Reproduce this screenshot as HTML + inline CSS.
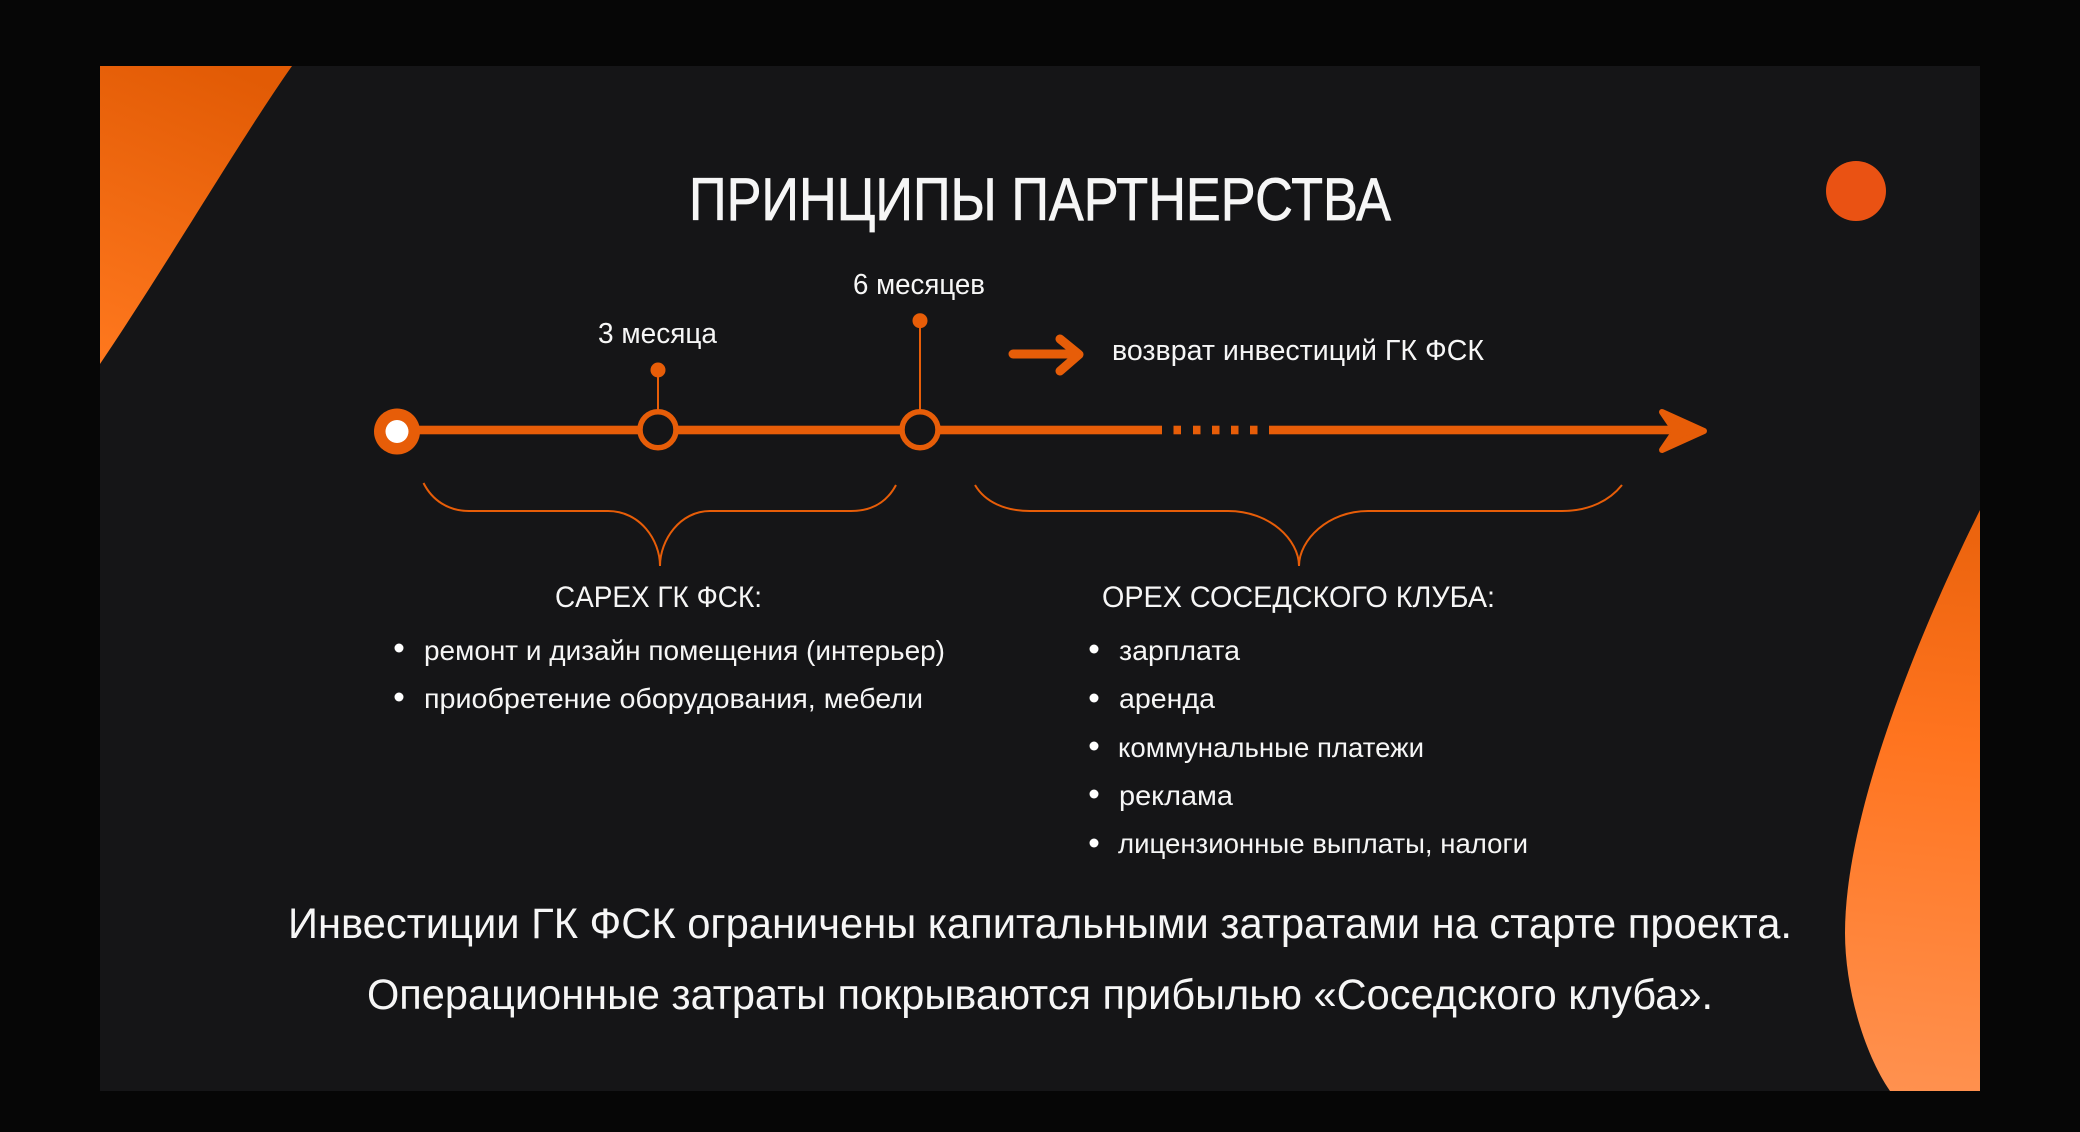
<!DOCTYPE html>
<html lang="ru"><head><meta charset="utf-8"><title>Принципы партнерства</title>
<style>html,body{margin:0;padding:0;background:#060606}svg{display:block}
text{font-family:"Liberation Sans",sans-serif;fill:#f6f6f6}</style></head>
<body>
<svg xmlns="http://www.w3.org/2000/svg" width="2080" height="1132" viewBox="0 0 2080 1132">
<defs>
<linearGradient id="g1" x1="220" y1="66" x2="100" y2="364" gradientUnits="userSpaceOnUse"><stop offset="0" stop-color="#e25b05"/><stop offset="1" stop-color="#ff781e"/></linearGradient>
<linearGradient id="g2" x1="1960" y1="510" x2="1900" y2="1091" gradientUnits="userSpaceOnUse"><stop offset="0" stop-color="#ea620c"/><stop offset=".4" stop-color="#ff741f"/><stop offset="1" stop-color="#ff914f"/></linearGradient>
</defs>
<rect width="2080" height="1132" fill="#060606"/>
<rect x="100" y="66" width="1880" height="1025" fill="#151517"/>
<path d="M100 66H292C240 140 170 260 100 364Z" fill="url(#g1)"/>
<path d="M1980 510C1935 600 1845 800 1845 933C1845 990 1865 1055 1890 1091H1980Z" fill="url(#g2)"/>
<circle cx="1856" cy="191" r="30" fill="#ea5213"/>
<text x="689" y="220" font-size="60" textLength="702" lengthAdjust="spacingAndGlyphs" stroke="#f6f6f6" stroke-width=".7">ПРИНЦИПЫ ПАРТНЕРСТВА</text>
<text x="598" y="343" font-size="29" textLength="119" lengthAdjust="spacingAndGlyphs">3 месяца</text>
<text x="853" y="294" font-size="29" textLength="132" lengthAdjust="spacingAndGlyphs">6 месяцев</text>
<text x="1112" y="360" font-size="29" textLength="372" lengthAdjust="spacingAndGlyphs">возврат инвестиций ГК ФСК</text>
<g fill="#e75d08">
<rect x="397" y="425.7" width="765" height="8.6"/>
<rect x="1173.5" y="425.7" width="7.5" height="8.6"/><rect x="1193" y="425.7" width="7.5" height="8.6"/><rect x="1212" y="425.7" width="7.5" height="8.6"/><rect x="1231" y="425.7" width="7.5" height="8.6"/><rect x="1250" y="425.7" width="7.5" height="8.6"/>
<rect x="1269" y="425.7" width="415" height="8.6"/>
<path d="M1662 412L1704 431L1662 450L1675 431Z" stroke="#e75d08" stroke-width="6" stroke-linejoin="round"/>
<circle cx="397" cy="431.500" r="23"/>
<circle cx="658" cy="370" r="7.500"/><circle cx="920" cy="320.700" r="7.500"/>
</g>
<circle cx="397" cy="431.500" r="11.500" fill="#fff"/>
<g fill="none" stroke="#e75d08">
<path d="M658 370V412M920 321V412" stroke-width="2"/>
<circle cx="658" cy="429.700" r="18" fill="#151517" stroke-width="5.500"/>
<circle cx="920" cy="429.700" r="18" fill="#151517" stroke-width="5.500"/>
<path d="M1013 354H1078M1060 339L1079 354.500L1060 371" stroke-width="9" stroke-linecap="round" stroke-linejoin="round"/>
<path d="M423.500 483C432 500 448 511 469 511H608C640 511 660 540 660 566C660 540 680 511 710 511H851C872 511 887 502 896 485" stroke-width="2"/>
<path d="M975 485C985 502 1005 511 1030 511H1228C1270 511 1299 540 1299 566C1299 540 1328 511 1368 511H1562C1590 511 1610 500 1622 485" stroke-width="2"/>
</g>
<text x="555" y="607" font-size="30" textLength="207" lengthAdjust="spacingAndGlyphs">CAPEX ГК ФСК:</text>
<text x="1102" y="607" font-size="30" textLength="393" lengthAdjust="spacingAndGlyphs">OPEX СОСЕДСКОГО КЛУБА:</text>
<g fill="#fff">
<circle cx="399" cy="648" r="4.500"/><circle cx="399" cy="697" r="4.500"/>
<circle cx="1094" cy="649" r="4.500"/><circle cx="1094" cy="698" r="4.500"/><circle cx="1094" cy="746" r="4.500"/><circle cx="1094" cy="794" r="4.500"/><circle cx="1094" cy="843" r="4.500"/>
</g>
<g font-size="28">
<text x="424" y="660" textLength="521" lengthAdjust="spacingAndGlyphs">ремонт и дизайн помещения (интерьер)</text>
<text x="424" y="708" textLength="499" lengthAdjust="spacingAndGlyphs">приобретение оборудования, мебели</text>
<text x="1119" y="660" textLength="121" lengthAdjust="spacingAndGlyphs">зарплата</text>
<text x="1119" y="708" textLength="96" lengthAdjust="spacingAndGlyphs">аренда</text>
<text x="1118" y="757" textLength="306" lengthAdjust="spacingAndGlyphs">коммунальные платежи</text>
<text x="1119" y="805" textLength="114" lengthAdjust="spacingAndGlyphs">реклама</text>
<text x="1118" y="853" textLength="410" lengthAdjust="spacingAndGlyphs">лицензионные выплаты, налоги</text>
</g>
<g font-size="43">
<text x="288" y="938" textLength="1504" lengthAdjust="spacingAndGlyphs">Инвестиции ГК ФСК ограничены капитальными затратами на старте проекта.</text>
<text x="367" y="1009" textLength="1346" lengthAdjust="spacingAndGlyphs">Операционные затраты покрываются прибылью «Соседского клуба».</text>
</g>
</svg>
</body></html>
